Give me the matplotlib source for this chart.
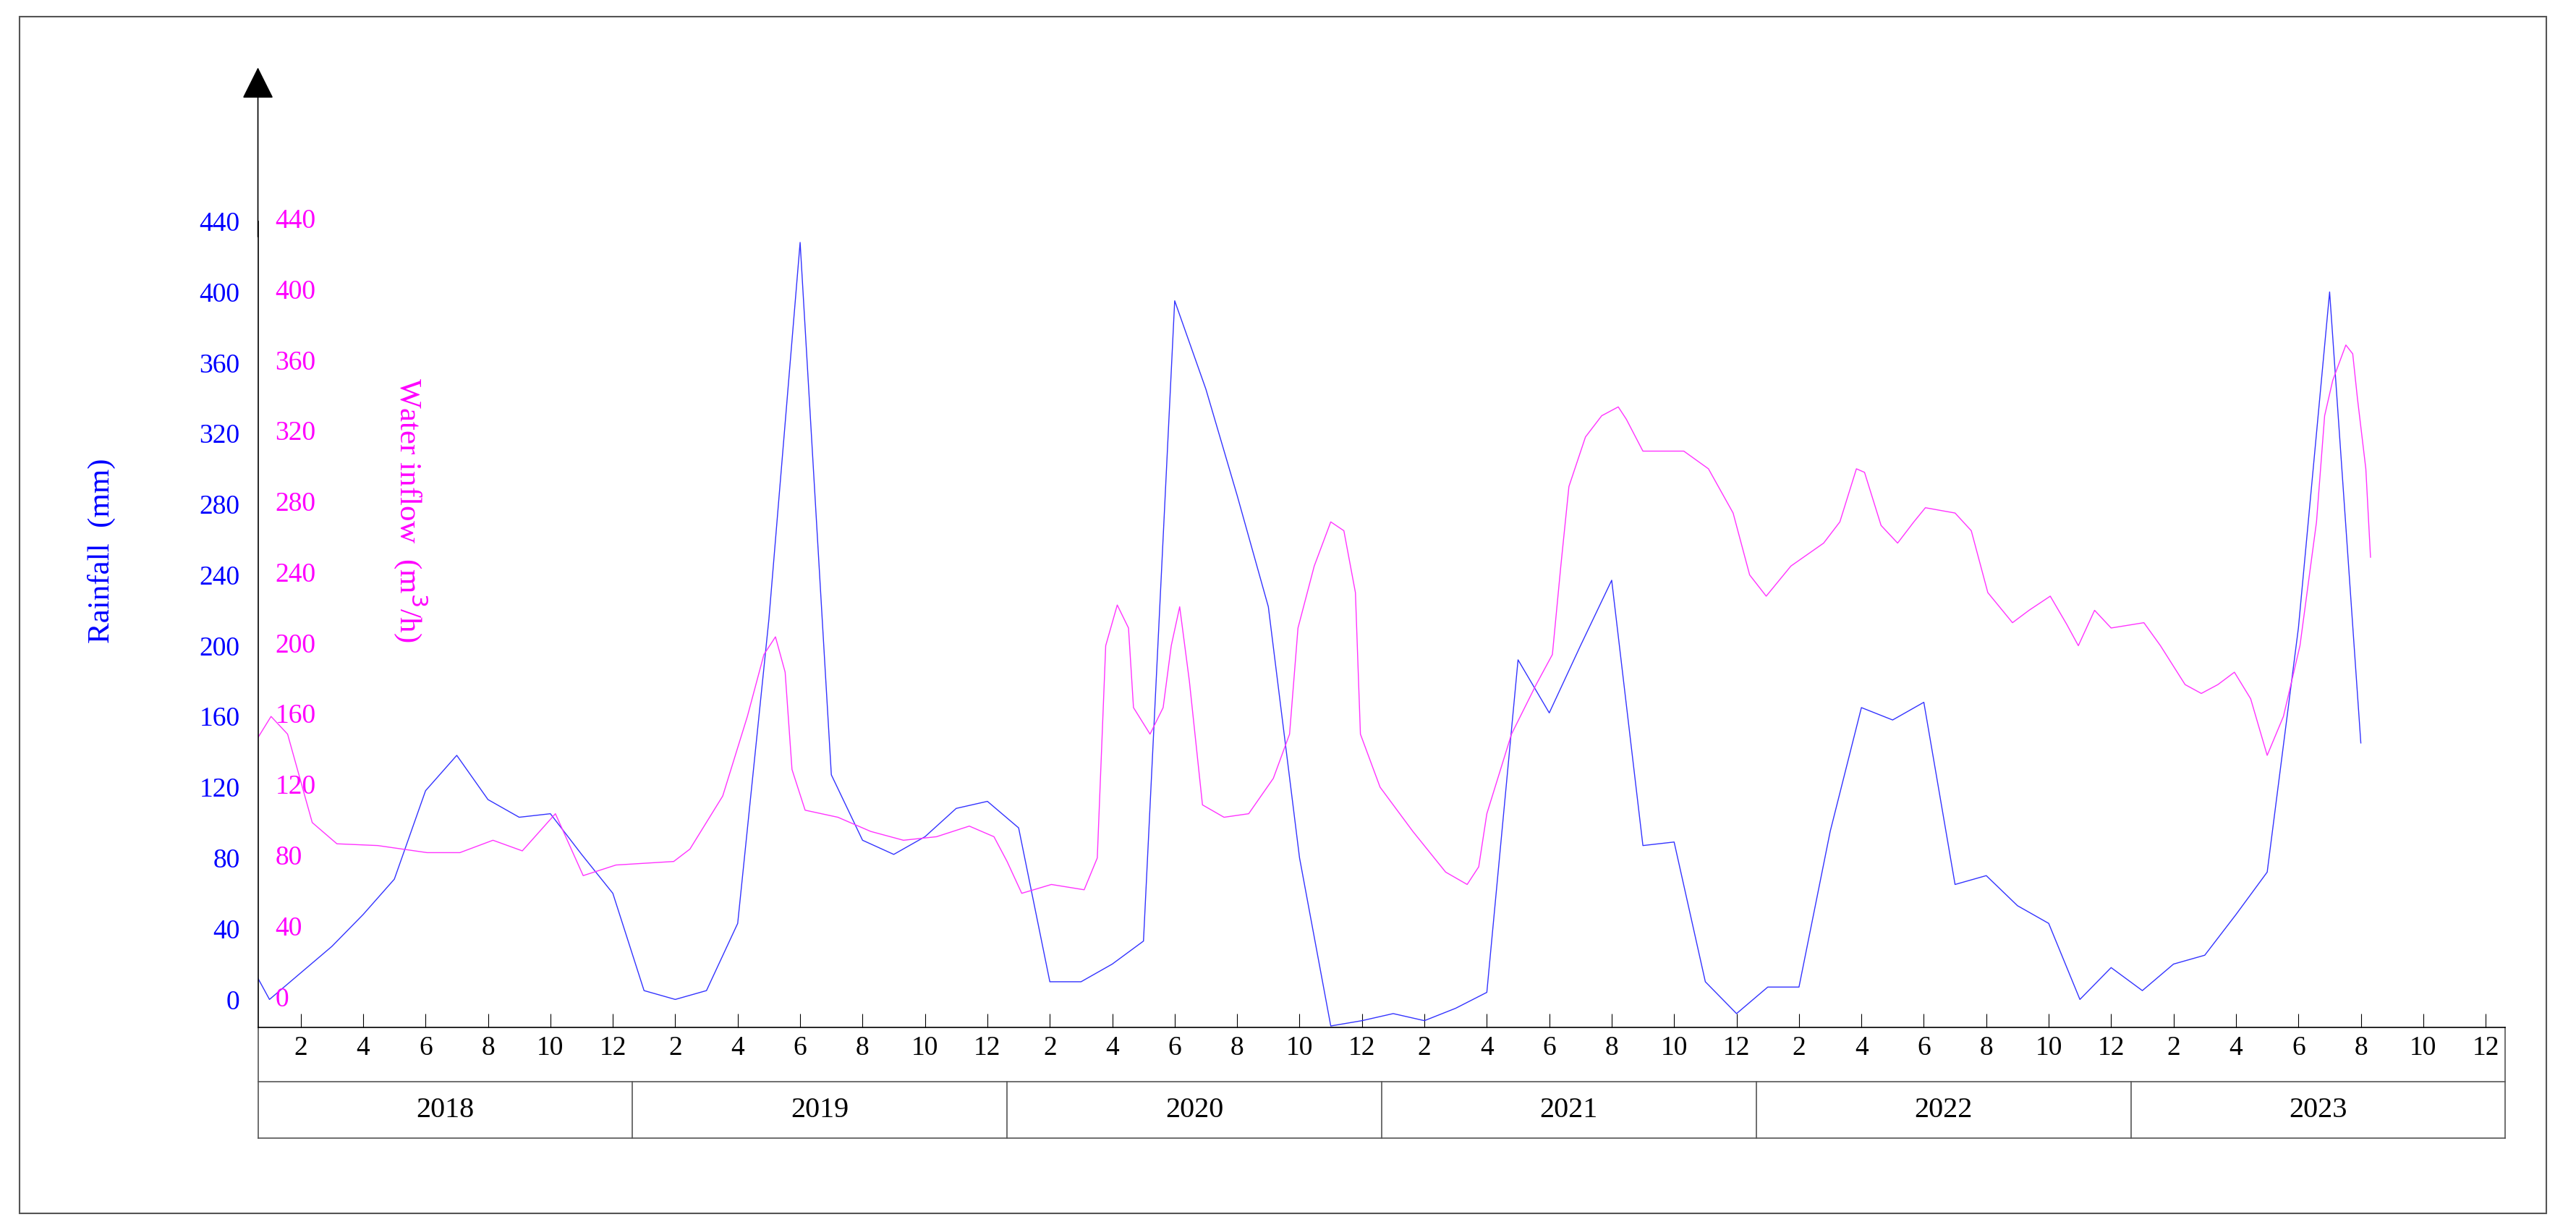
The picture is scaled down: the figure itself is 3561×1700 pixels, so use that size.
import numpy as np
import matplotlib
matplotlib.use("Agg")
import matplotlib.pyplot as plt
from matplotlib.patches import Rectangle
from matplotlib.lines import Line2D

plt.rcParams['font.family'] = ['Liberation Serif', 'DejaVu Serif']

years = ['2018', '2019', '2020', '2021', '2022', '2023']

# Monthly rainfall (mm), Jan 2018 .. Aug 2023
rainfall = [0, 15, 30, 48, 68, 118, 138, 113, 103, 105, 82, 60,
            5, 0, 5, 43, 215, 428, 127, 90, 82, 92, 108, 112,
            97, 10, 10, 20, 33, 395, 345, 285, 222, 80, -15, -12,
            -8, -12, -5, 4, 192, 162, 200, 237, 87, 89, 10, -8,
            7, 7, 95, 165, 158, 168, 65, 70, 53, 43, 0, 18,
            5, 20, 25, 48, 72, 210, 400, 145]
rain_first = 12

# Water inflow (m3/h): (time in months since start of 2018, value)
inflow_pairs = [
    (0.00, 148), (0.42, 160), (0.95, 150), (1.74, 100), (2.53, 88), (3.84, 87), (5.42, 83),
    (6.47, 83), (7.53, 90), (8.47, 84), (9.53, 105), (10.42, 70), (11.47, 76),
    (13.32, 78), (13.84, 85), (14.89, 115), (15.68, 160), (16.21, 195), (16.58, 205),
    (16.89, 185), (17.11, 130), (17.53, 107), (18.58, 103), (19.63, 95), (20.68, 90),
    (21.74, 92), (22.79, 98), (23.58, 92), (24.00, 78), (24.47, 60), (25.42, 65),
    (26.47, 62), (26.89, 80), (27.16, 200), (27.53, 223), (27.89, 210), (28.05, 165),
    (28.58, 150), (29.00, 165), (29.26, 200), (29.53, 222), (29.84, 180), (30.26, 110),
    (30.95, 103), (31.74, 105), (32.53, 125), (33.05, 150), (33.32, 210), (33.84, 245),
    (34.37, 270), (34.79, 265), (35.16, 230), (35.32, 150), (35.95, 120), (37.00, 95),
    (38.05, 72), (38.74, 65), (39.11, 75), (39.37, 105), (40.16, 150), (40.95, 178),
    (41.47, 195), (41.74, 245), (42.00, 290), (42.53, 318), (43.05, 330), (43.58, 335),
    (43.84, 328), (44.37, 310), (45.16, 310), (45.68, 310), (46.47, 300), (47.26, 275),
    (47.79, 240), (48.32, 228), (49.11, 245), (50.16, 258), (50.68, 270), (51.21, 300),
    (51.47, 298), (52.00, 268), (52.53, 258), (53.05, 270), (53.42, 278), (54.37, 275),
    (54.89, 265), (55.42, 230), (56.21, 213), (56.74, 220), (57.42, 228), (57.95, 212),
    (58.32, 200), (58.58, 210), (58.84, 220), (59.37, 210), (60.42, 213), (60.95, 200),
    (61.74, 178), (62.26, 173), (62.79, 178), (63.32, 185), (63.84, 170), (64.37, 138),
    (64.89, 160), (65.42, 200), (65.95, 270), (66.21, 330), (66.47, 350), (66.89, 370),
    (67.11, 365), (67.26, 340), (67.53, 300), (67.68, 250)]
inflow_t = [p[0] for p in inflow_pairs]
inflow = [p[1] for p in inflow_pairs]

W, H = 3561, 1700
fig = plt.figure(figsize=(W/100, H/100), dpi=100)
fig.patches.append(Rectangle((12/1568, 10/748), 1538/1568, 728/748, transform=fig.transFigure,
                             fill=False, edgecolor='#555555', lw=1.5))

ax = fig.add_axes([157/1568, 1-625/748, 1368/1568, (625-42)/748])
ax.set_xlim(0, 72)
ax.set_ylim(-16, 526)
for s in ['top', 'right']:
    ax.spines[s].set_visible(False)
ax.spines['left'].set_bounds(-16, 440)
ax.spines['left'].set_linewidth(1.2)
ax.spines['bottom'].set_linewidth(1.2)

x_rain = [0.0] + [k + 0.37 for k in range(len(rainfall))]
ax.plot(x_rain, [rain_first] + rainfall, color='#3333ff', lw=1.0)
ax.plot(inflow_t, inflow, color='#ff33ff', lw=1.0)

# arrow at top of y axis
ax.annotate('', xy=(0, 528), xytext=(0, 430), arrowprops=dict(arrowstyle='-|>', color='black',
            mutation_scale=70, lw=1.2), annotation_clip=False)

yt = np.arange(0, 441, 40)
ax.set_yticks(yt)
ax.set_yticklabels([str(v) for v in yt], color='blue', fontsize=27)
ax.tick_params(axis='y', direction='in', length=0, pad=18)
for v in yt:
    ax.text(0.55, v, str(v), color='#ff00ff', fontsize=27, va='center', ha='left')

xt, xl = [], []
for yi in range(6):
    for m in range(2, 13, 2):
        xt.append(yi*12 + m - 1 + 0.37)
        xl.append(str(m))
ax.set_xticks(xt)
ax.set_xticklabels(xl, fontsize=27)
ax.tick_params(axis='x', direction='in', length=14, pad=8)

trans = ax.get_xaxis_transform()
y1 = -(658-625)/583
y2 = -(692-625)/583
ax.add_line(Line2D([0, 72], [y1, y1], transform=trans, color='#555555', lw=1.2, clip_on=False))
ax.add_line(Line2D([0, 72], [y2, y2], transform=trans, color='#555555', lw=1.2, clip_on=False))
for b in range(7):
    top = 0 if b in (0, 6) else y1
    ax.add_line(Line2D([b*12, b*12], [top, y2], transform=trans, color='#555555', lw=1.2, clip_on=False))
for i, yr in enumerate(years):
    ax.text(i*12 + 6, (y1+y2)/2, yr, transform=trans, ha='center', va='center', fontsize=29)

fig.text(62/1568, 1-335/748, 'Rainfall  (mm)', color='blue', fontsize=31, rotation=90,
         ha='center', va='center')
fig.text(250/1568, 1-310/748, 'Water inflow  (m$^3$/h)', color='#ff00ff', fontsize=31,
         rotation=-90, ha='center', va='center')

fig.savefig('out.png', dpi=100)
